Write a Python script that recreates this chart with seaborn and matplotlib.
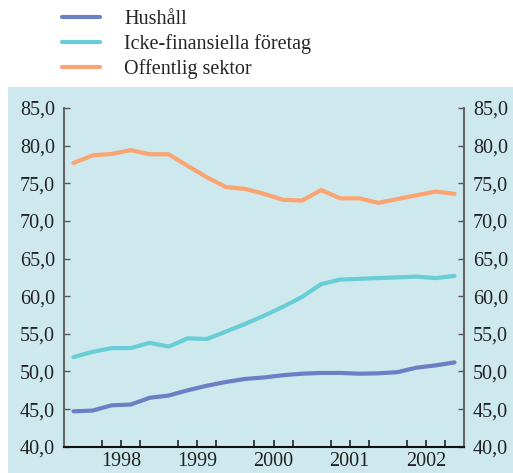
import numpy as np
import pandas as pd
import seaborn as sns
import matplotlib.pyplot as plt
from matplotlib.patches import Rectangle

# kvartal 1997Q4 - 2002Q4
quarters = ['1997Q4',
            '1998Q1', '1998Q2', '1998Q3', '1998Q4',
            '1999Q1', '1999Q2', '1999Q3', '1999Q4',
            '2000Q1', '2000Q2', '2000Q3', '2000Q4',
            '2001Q1', '2001Q2', '2001Q3', '2001Q4',
            '2002Q1', '2002Q2', '2002Q3', '2002Q4']
hushall = [44.7, 44.8, 45.5, 45.6, 46.5, 46.8, 47.5, 48.1, 48.6, 49.0, 49.2,
           49.5, 49.7, 49.8, 49.8, 49.7, 49.75, 49.9, 50.5, 50.8, 51.2]
icke_fin = [51.9, 52.6, 53.1, 53.1, 53.8, 53.3, 54.4, 54.3, 55.3, 56.3, 57.4,
            58.6, 59.9, 61.6, 62.2, 62.3, 62.4, 62.5, 62.6, 62.4, 62.7]
offentlig = [77.7, 78.7, 78.9, 79.4, 78.85, 78.85, 77.3, 75.8, 74.5, 74.25, 73.6,
             72.8, 72.7, 74.1, 73.0, 73.0, 72.4, 72.9, 73.4, 73.9, 73.6]
years = ['1998', '1999', '2000', '2001', '2002']
series_names = ['Hushåll', 'Icke-finansiella företag', 'Offentlig sektor']
colors = ['#6b7fc4', '#68cdd5', '#fba472']
panel_color = '#cde9ee'

df = pd.DataFrame({'q': np.arange(len(quarters)),
                   'Hushåll': hushall,
                   'Icke-finansiella företag': icke_fin,
                   'Offentlig sektor': offentlig})
long = df.melt(id_vars='q', var_name='serie', value_name='varde')

sns.set_style('white')
plt.rcParams['font.family'] = ['Liberation Serif', 'DejaVu Serif']
plt.rcParams['font.size'] = 14.5

fig = plt.figure(figsize=(5.13, 4.73), dpi=100)
fig.patches.append(Rectangle((8 / 513, 0), 1, (473 - 87) / 473, transform=fig.transFigure,
                             facecolor=panel_color, edgecolor='none', zorder=-1))
ax = fig.add_axes([64 / 513, 26.3 / 473, 400 / 513, 338.7 / 473])
ax.set_facecolor(panel_color)

sns.lineplot(data=long, x='q', y='varde', hue='serie', hue_order=series_names,
             palette=dict(zip(series_names, colors)), linewidth=3, ax=ax, legend=False)

ax.set_xlim(-0.5, len(quarters) - 0.5)
ax.set_ylim(40, 85)
ax.set_xlabel('')
ax.set_ylabel('')

# y-axel på båda sidor
yt = np.arange(40, 86, 5)
ax.set_yticks(yt, [f'{v:.1f}'.replace('.', ',') for v in yt])
ax.tick_params(axis='y', direction='in', length=4, width=1, color='#555555',
               left=True, right=True, labelleft=True, labelright=True, pad=6.5)
for t in ax.get_yticklabels():
    t.set_color('#222222')

# x-axel: långa streck vid årsskiften, korta vid kvartal, årtal mitt i året
year_starts = [0.5, 4.5, 8.5, 12.5, 16.5]
ax.set_xticks(year_starts, [''] * len(year_starts))
minor = [b for b in np.arange(-0.5, len(quarters), 1.0) if b not in year_starts]
ax.set_xticks(minor, minor=True)
ax.set_xticklabels([years[year_starts.index(b - 2)] if (b - 2) in year_starts else '' for b in minor],
                   minor=True)
ax.tick_params(axis='x', which='major', direction='in', length=9, width=1.2, color='#222222')
ax.tick_params(axis='x', which='minor', direction='in', length=5, width=1.2, color='#222222',
               bottom=True, pad=3.5, labelcolor='#222222')

for side in ['left', 'right']:
    ax.spines[side].set_color('#666666')
    ax.spines[side].set_linewidth(1.5)
ax.spines['bottom'].set_color('#111111')
ax.spines['bottom'].set_linewidth(1.5)
ax.spines['top'].set_visible(False)

handles = [plt.Line2D([], [], color=c, linewidth=3) for c in colors]
fig.legend(handles, series_names, loc='upper left', bbox_to_anchor=(62 / 513, 1.0 - 10 / 473),
           frameon=False, handlelength=1.9, handletextpad=1.2, labelspacing=0.25,
           borderpad=0, borderaxespad=0, fontsize=14.5)

fig.savefig('out.png', dpi=100)
